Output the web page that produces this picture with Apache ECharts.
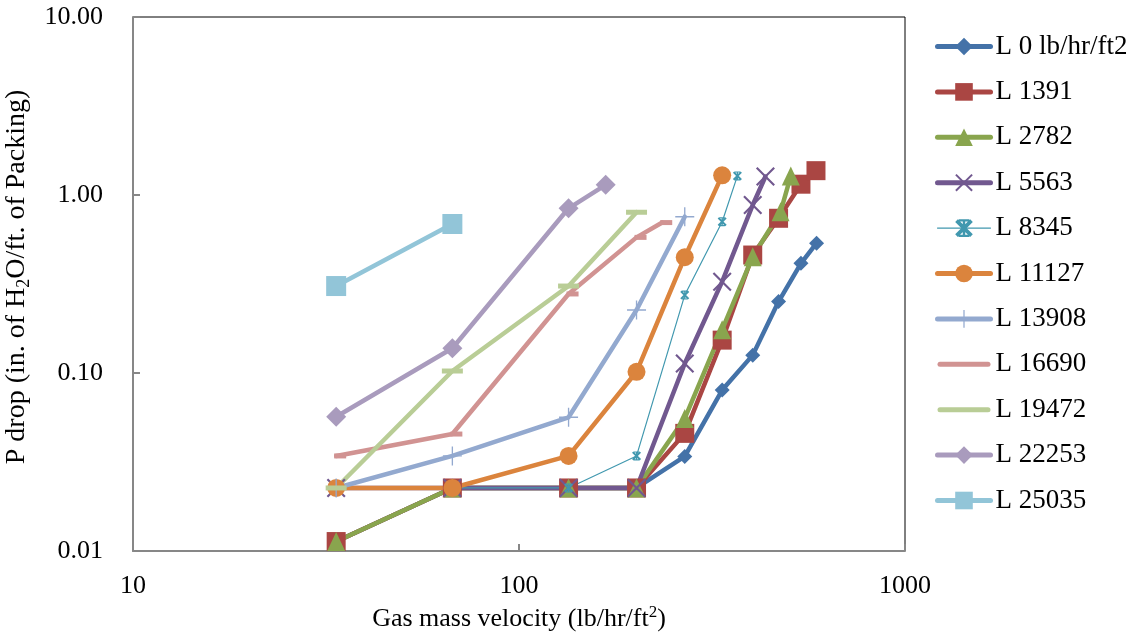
<!DOCTYPE html>
<html>
<head>
<meta charset="utf-8">
<script src="https://cdn.jsdelivr.net/npm/echarts@6/dist/echarts.min.js"></script>
<style>
  html, body { margin: 0; padding: 0; background: #fff; }
  #chart { width: 1130px; height: 638px; }
</style>
</head>
<body>
<div id="chart"></div>
<script>
// Gas mass velocity (lb/hr/ft2) and pressure drop (in. H2O / ft packing) per liquid rate
const gasL0 = [33.6, 67.2, 134.4, 201.6, 268.8, 336, 403.2, 470.4, 537.6, 590];
const dpL0 = [0.0113, 0.0226, 0.0226, 0.0226, 0.0340, 0.0802, 0.126, 0.252, 0.413, 0.536];

const gasL1391 = [33.6, 67.2, 134.4, 201.6, 268.8, 336, 403.2, 470.4, 537.6, 588];
const dpL1391 = [0.0113, 0.0226, 0.0226, 0.0226, 0.0458, 0.153, 0.46, 0.74, 1.15, 1.37];

const gasL2782 = [33.6, 67.2, 134.4, 201.6, 268.8, 336, 403.2, 476, 506];
const dpL2782 = [0.0113, 0.0226, 0.0226, 0.0226, 0.0556, 0.175, 0.45, 0.805, 1.28];

const gasL5563 = [33.6, 67.2, 134.4, 201.6, 268.8, 336, 403.2, 435];
const dpL5563 = [0.0226, 0.0226, 0.0226, 0.0226, 0.113, 0.326, 0.879, 1.27];

const gasL8345 = [33.6, 67.2, 134.4, 201.6, 268.8, 336, 368];
const dpL8345 = [0.0226, 0.0226, 0.0226, 0.0342, 0.274, 0.708, 1.28];

const gasL11127 = [33.6, 67.2, 134.4, 201.6, 268.8, 336];
const dpL11127 = [0.0226, 0.0226, 0.0342, 0.1016, 0.447, 1.29];

const gasL13908 = [33.6, 67.2, 134.4, 201.6, 268.8];
const dpL13908 = [0.0226, 0.0342, 0.0564, 0.226, 0.755];

const gasL16690 = [33.6, 67.2, 134.4, 201.6, 235];
const dpL16690 = [0.0342, 0.0454, 0.278, 0.578, 0.70];

const gasL19472 = [33.6, 67.2, 134.4, 201.6];
const dpL19472 = [0.0226, 0.1026, 0.308, 0.80];

const gasL22253 = [33.6, 67.2, 134.4, 167.7];
const dpL22253 = [0.0568, 0.1377, 0.842, 1.14];

const gasL25035 = [33.6, 67.2];
const dpL25035 = [0.308, 0.687];

const seriesNames = ['L 0 lb/hr/ft2', 'L 1391', 'L 2782', 'L 5563', 'L 8345', 'L 11127',
  'L 13908', 'L 16690', 'L 19472', 'L 22253', 'L 25035'];

const xTicks = [10, 100, 1000];
const yTicks = [0.01, 0.1, 1, 10];

// marker shapes
const X_MARK = 'path://M0,1.6 L1.6,0 L20,18.4 L18.4,20 Z M18.4,0 L20,1.6 L1.6,20 L0,18.4 Z';
const PLUS_MARK = 'path://M0,9.3 L20,9.3 L20,10.7 L0,10.7 Z M9.3,0 L10.7,0 L10.7,20 L9.3,20 Z';
const STAR_MARK = 'path://M0,1.5 L1.5,0 L10,8.5 L8.5,10 Z M8.5,0 L10,1.5 L1.5,10 L0,8.5 Z M4.3,0 L5.7,0 L5.7,10 L4.3,10 Z M2,0 L8,0 L8,1.2 L2,1.2 Z M2,8.8 L8,8.8 L8,10 L2,10 Z';
const BAR_ICON = 'path://M2.5,0 L50.5,0 A2.5,2.5 0 0 1 50.5,5 L2.5,5 A2.5,2.5 0 0 1 2.5,0 Z';

function pairs(xs, ys) {
  return xs.map((x, i) => [x, ys[i]]);
}

function lineSeries(idx, xs, ys, color, symbol, size, extra) {
  return Object.assign({
    name: seriesNames[idx],
    type: 'line',
    data: pairs(xs, ys),
    symbol: symbol,
    symbolSize: size,
    showAllSymbol: true,
    lineStyle: { color: color, width: 4.5, cap: 'round', join: 'round' },
    itemStyle: { color: color, opacity: 1 },
    emphasis: { disabled: true },
    animation: false
  }, extra || {});
}

const series = [
  lineSeries(0, gasL0, dpL0, '#4472A8', 'diamond', 15),
  lineSeries(1, gasL1391, dpL1391, '#AA4643', 'rect', 19),
  lineSeries(2, gasL2782, dpL2782, '#89A54E', 'triangle', [18, 19]),
  lineSeries(3, gasL5563, dpL5563, '#71588F', X_MARK, 19),
  lineSeries(4, gasL8345, dpL8345, '#4198AF', STAR_MARK, 9, {
    lineStyle: { color: '#4198AF', width: 1.2 }
  }),
  lineSeries(5, gasL11127, dpL11127, '#DB843D', 'circle', 18),
  lineSeries(6, gasL13908, dpL13908, '#93A9CF', PLUS_MARK, 19),
  lineSeries(7, gasL16690, dpL16690, '#D19392', 'rect', [12, 5], { symbolOffset: [4, 0] }),
  lineSeries(8, gasL19472, dpL19472, '#B9CD96', 'rect', [21, 5]),
  lineSeries(9, gasL22253, dpL22253, '#A99BBD', 'diamond', 20),
  lineSeries(10, gasL25035, dpL25035, '#92C5D8', 'rect', 20)
];

const legendItems = seriesNames.map((n, i) => {
  const item = { name: n, lineStyle: { width: i === 4 ? 1.2 : 5, cap: 'round' } };
  if (i === 7 || i === 8) item.icon = BAR_ICON;
  return item;
});

const serif = '"Liberation Serif", "Times New Roman", serif';

const chart = echarts.init(document.getElementById('chart'), null, { renderer: 'canvas' });
chart.setOption({
  backgroundColor: '#ffffff',
  animation: false,
  grid: {
    left: 133, right: 225, top: 17, bottom: 87,
    outerBoundsMode: 'none',
    containLabel: false,
    show: true, borderColor: '#000', borderWidth: 1, backgroundColor: 'transparent'
  },
  legend: {
    orient: 'vertical',
    left: 935,
    top: 33,
    padding: 0,
    itemWidth: 53,
    itemHeight: 22,
    itemGap: 18.4,
    symbolKeepAspect: true,
    textStyle: { fontFamily: serif, fontSize: 27, color: '#000', lineHeight: 25 },
    data: legendItems
  },
  xAxis: {
    type: 'log',
    logBase: 10,
    min: xTicks[0],
    max: xTicks[xTicks.length - 1],
    name: 'Gas mass velocity (lb/hr/ft{sup|2})',
    nameLocation: 'middle',
    nameGap: 45,
    nameTextStyle: {
      fontFamily: serif, fontSize: 26, color: '#000', lineHeight: 30,
      rich: { sup: { fontFamily: serif, fontSize: 17, color: '#000', verticalAlign: 'top', lineHeight: 30, padding: [0, 0, 10, 0] } }
    },
    axisLine: { show: true, onZero: false, lineStyle: { color: '#878787', width: 2 } },
    axisTick: { show: true, inside: true, length: 7, lineStyle: { color: '#878787', width: 2 } },
    minorTick: { show: false },
    splitLine: { show: false },
    axisLabel: { fontFamily: serif, fontSize: 26, color: '#000', margin: 22, formatter: v => String(Math.round(v)) }
  },
  yAxis: {
    type: 'log',
    logBase: 10,
    min: yTicks[0],
    max: yTicks[yTicks.length - 1],
    name: 'P drop (in. of H{sub|2}O/ft. of Packing)',
    nameLocation: 'middle',
    nameGap: 88,
    nameRotate: 90,
    nameTextStyle: {
      fontFamily: serif, fontSize: 28, color: '#000', lineHeight: 34,
      padding: [0, 0, 0, 14],
      rich: { sub: { fontFamily: serif, fontSize: 18, color: '#000', verticalAlign: 'bottom', lineHeight: 34, padding: [10, 0, 0, 0] } }
    },
    axisLine: { show: true, onZero: false, lineStyle: { color: '#878787', width: 2 } },
    axisTick: { show: true, inside: true, length: 7, lineStyle: { color: '#878787', width: 2 } },
    minorTick: { show: false },
    splitLine: { show: false },
    axisLabel: {
      fontFamily: serif, fontSize: 26, color: '#000', margin: 30,
      formatter: v => Number(v).toFixed(2)
    }
  },
  series: series
});
</script>
</body>
</html>
